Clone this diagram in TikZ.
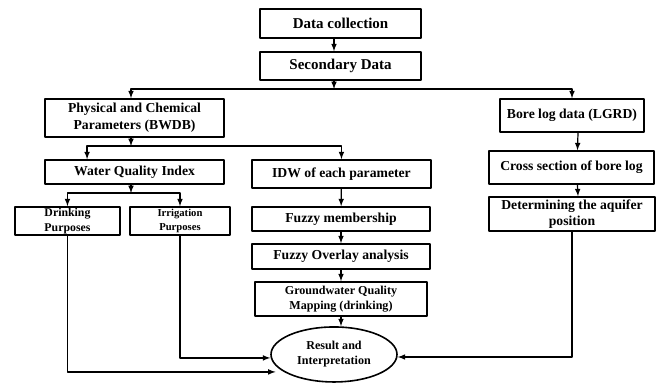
\documentclass[tikz,border=0pt]{standalone}
\usepackage{fontspec}
\setmainfont{Liberation Serif}
\usetikzlibrary{shapes.geometric}
\begin{document}
\begin{tikzpicture}[>=latex,line join=bevel,
    box/.style={draw=black,rectangle,line width=1.2bp,inner sep=0pt,align=center,
      font=\bfseries\fontsize{10.3}{12.5}\selectfont},
    flow/.style={->,line width=0.9bp}]
    \useasboundingbox (0bp,0bp) rectangle (495bp,287.25bp);
    %%
    \node (dc) at (255.4bp,269.6bp) [box,minimum width=120.75bp,minimum height=21.75bp,font=\bfseries\fontsize{11.3}{13}\selectfont] {Data collection};
    \node (sd) at (255.4bp,237.75bp) [box,minimum width=120.75bp,minimum height=21bp,font=\bfseries\fontsize{11.3}{13}\selectfont] {Secondary Data};
    \node (phys) at (100.9bp,198.75bp) [box,minimum width=134.25bp,minimum height=28.5bp] {Physical and Chemical\\Parameters (BWDB)};
    \node (bore) at (429bp,200.6bp) [box,minimum width=108bp,minimum height=24.75bp] {Bore log data (LGRD)};
    \node (wqi) at (100.9bp,158.25bp) [box,minimum width=134.25bp,minimum height=18bp] {Water Quality Index};
    \node (idw) at (256.1bp,156.75bp) [box,minimum width=134.25bp,minimum height=21bp] {IDW of each parameter};
    \node (cross) at (428.6bp,161.6bp) [box,minimum width=123.75bp,minimum height=24.75bp] {Cross section of bore log};
    \node (drink) at (50.6bp,121.5bp) [box,minimum width=78.75bp,minimum height=21bp,font=\bfseries\fontsize{8.9}{11}\selectfont] {Drinking\\Purposes};
    \node (irr) at (135bp,121.5bp) [box,minimum width=75bp,minimum height=21bp,font=\bfseries\fontsize{8}{11}\selectfont] {Irrigation\\Purposes};
    \node (fm) at (255.75bp,123bp) [box,minimum width=133.5bp,minimum height=18bp] {Fuzzy membership};
    \node (fo) at (255.75bp,94.9bp) [box,minimum width=133.5bp,minimum height=18.75bp] {Fuzzy Overlay analysis};
    \node (gw) at (255.75bp,63bp) [box,minimum width=129bp,minimum height=25.5bp,font=\bfseries\fontsize{9.1}{11.25}\selectfont] {Groundwater Quality\\Mapping (drinking)};
    \node (det) at (429bp,126.75bp) [box,minimum width=124.5bp,minimum height=25.5bp] {Determining the aquifer\\position};
    \node (ell) at (250.5bp,21.4bp) [box,ellipse,minimum width=94.5bp,minimum height=41.25bp,font=\bfseries\fontsize{9.1}{11.25}\selectfont] {Result and\\Interpretation};
    %%
    \coordinate (j1) at (250.5bp,220.5bp);
    \coordinate (j2) at (98.25bp,177.75bp);
    \coordinate (j3) at (98.25bp,142.5bp);
    \draw [flow] (dc.south -| j1) -- (sd.north -| j1);
    \draw [flow] (sd.south -| j1) -- (j1);
    \draw [flow] (j1) -| (phys.north -| j2);
    \draw [flow] (j1) -| (bore.north);
    \draw [flow] (phys.south -| j2) -- (j2);
    \draw [flow] (j2) -| ([xshift=-35.6bp]wqi.north);
    \draw [flow] (j2) -| (idw.north);
    \draw [flow] (wqi.south -| j3) -- (j3);
    \draw [flow] (j3) -| (drink.north);
    \draw [flow] (j3) -| (irr.north);
    \draw [flow] (idw) -- (fm);
    \draw [flow] (fm) -- (fo);
    \draw [flow] (fo) -- (gw);
    \draw [flow] (gw.south) -- (gw.south |- ell.north);
    \draw [flow] ([xshift=4.5bp]bore.south) -- ([xshift=4.5bp]cross.north);
    \draw [flow] ([xshift=4.5bp]cross.south) -- ([xshift=4.5bp]det.north);
    \draw [flow] (drink.south) |- ([xshift=4bp,yshift=-13.1bp]ell.west);
    \draw [flow] (irr.south) |- ([yshift=-2.6bp]ell.west);
    \draw [flow] (det.south) |- ([yshift=-1.9bp]ell.east);
    %
\end{tikzpicture}
\end{document}
